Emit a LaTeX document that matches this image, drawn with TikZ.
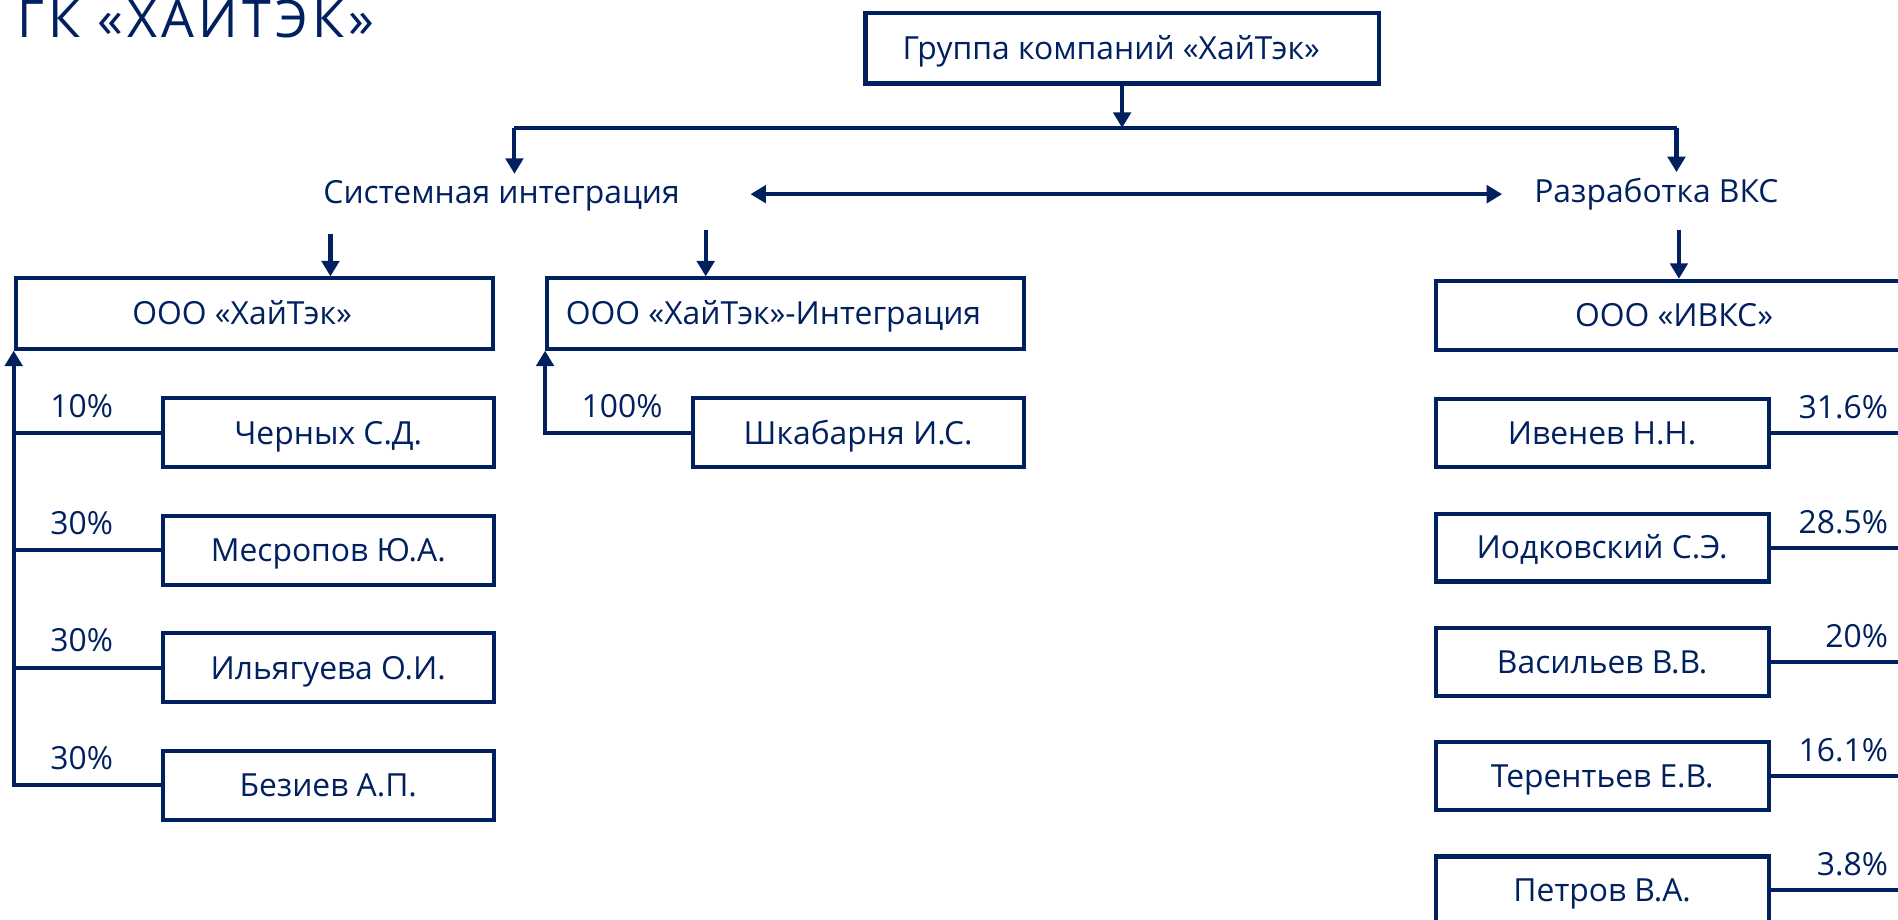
\documentclass[tikz,border=0pt]{standalone}
\usepackage{fontspec}
\setmainfont{Open Sans}
\usetikzlibrary{arrows.meta}
\definecolor{navy}{RGB}{0,32,96}
\tikzset{
    box/.style={draw=navy, line width=2.4pt, text=navy, minimum height=1.45cm, text height=0.47cm, text depth=0pt, inner sep=0pt},
    lbox/.style={box, minimum width=9.85cm, execute at begin node={\hspace*{-0.5cm}}},
    pbox/.style={box, minimum width=6.84cm, minimum height=1.425cm},
    rbox/.style={box, minimum width=6.875cm, minimum height=1.4cm},
    lbl/.style={text=navy, inner sep=0pt, text height=0.47cm, text depth=0.13cm, outer sep=0.15cm},
    link/.style={draw=navy, line width=2.4pt},
    arr/.style={link, -{Triangle[length=0.32cm,width=0.36cm]}},
    darr/.style={link, {Triangle[length=0.32cm,width=0.36cm]}-{Triangle[length=0.32cm,width=0.36cm]}}
}
\begin{document}
\begin{tikzpicture}
\fontsize{18.7}{22}\selectfont
\useasboundingbox (0,0) rectangle (39.2,-19);
\node[text=navy, inner sep=0pt, anchor=base west, font=\fontsize{30.5}{34}\selectfont\addfontfeature{LetterSpace=8}] (title) at (0.35,-0.77) {ГК «ХАЙТЭК»};

\node[box, minimum width=10.6cm, execute at begin node={\hspace*{-0.45cm}}] (group) at (23.175,-1) {Группа компаний «ХайТэк»};
\coordinate (bus) at (23.175,-2.64);
\coordinate (busL) at (10.625,-2.64);
\coordinate (busR) at (34.625,-2.64);
\draw[arr] (group) -- (bus);
\draw[link] (busL) -- (busR);

\node[lbl, anchor=base] (sys) at (10.36,-4.21) {Системная интеграция};
\node[lbl, anchor=base] (dev) at (34.21,-4.175) {Разработка ВКС};
\draw[arr] (busL) -- (busL |- sys.north);
\draw[arr] (busR) -- (busR |- dev.north);
\coordinate (dl) at (15.5,-4.01);
\coordinate (dr) at (31.025,-4.01);
\draw[darr] (dl) -- (dr);

\node[lbox] (hitek) at (5.25,-6.475) {ООО «ХайТэк»};
\node[lbox] (integ) at (16.225,-6.475) {ООО «ХайТэк»-Интеграция};
\node[box, minimum width=9.85cm, minimum height=1.425cm] (ivks) at (34.575,-6.5125) {ООО «ИВКС»};
\coordinate (s1) at (6.825,-4.825);
\coordinate (s2) at (14.575,-4.75);
\coordinate (s3) at (34.675,-4.75);
\draw[arr] (s1) -- (s1 |- hitek.north);
\draw[arr] (s2) -- (s2 |- integ.north);
\draw[arr] (s3) -- (s3 |- ivks.north);

\foreach \i/\y/\n/\p in {1/-8.94/Черных С.Д./10,2/-11.365/Месропов Ю.А./30,3/-13.79/Ильягуева О.И./30,4/-16.215/Безиев А.П./30}{
    \node[pbox] (own\i) at (6.78,\y) {\n};
    \draw[link] (own\i.west) -- (own\i.west -| hitek.south west);
    \node[text=navy, inner sep=0pt, anchor=base west] (pc\i) at ([shift={(0.75,0.325)}]own\i.west -| hitek.south west) {\p\%};
}
\draw[arr] (own4.west) -| (hitek.south west);

\node[pbox] (shk) at (17.725,-8.94) {Шкабарня И.С.};
\draw[arr] (shk.west) -| (integ.south west);
\node[text=navy, inner sep=0pt, anchor=base west] (pc0) at ([shift={(0.75,0.325)}]shk.west -| integ.south west) {100\%};

\foreach \i/\y/\n/\p in {1/-8.95/Ивенев Н.Н./31.6,2/-11.31/Иодковский С.Э./28.5,3/-13.67/Васильев В.В./20,4/-16.03/Терентьев Е.В./16.1,5/-18.39/Петров В.А./3.8}{
    \node[rbox] (sh\i) at (33.09,\y) {\n};
    \draw[link] (sh\i.east) -- (sh\i.east -| ivks.south east);
    \node[text=navy, inner sep=0pt, anchor=base east] (rp\i) at (39.0,\y+0.3) {\p\%};
}
\end{tikzpicture}
\end{document}
